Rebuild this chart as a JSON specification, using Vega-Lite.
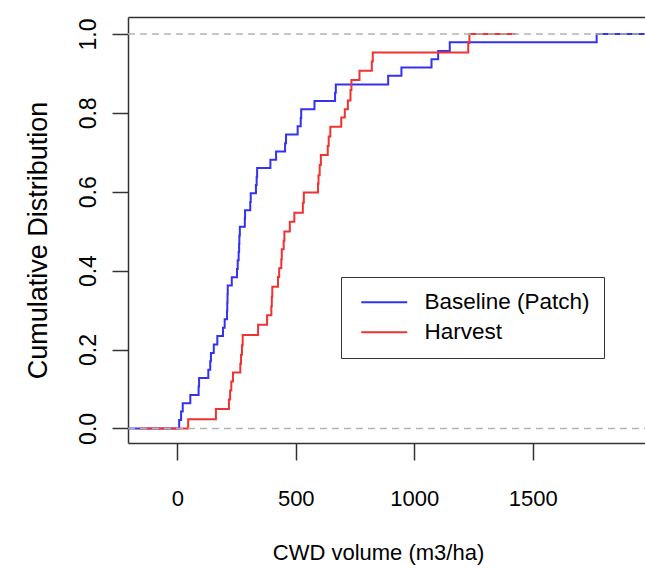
{
  "$schema": "https://vega.github.io/schema/vega-lite/v6.json",
  "width": 517,
  "height": 426,
  "autosize": {"type": "none"},
  "padding": {"left": 128, "top": 17, "right": 0, "bottom": 126},
  "background": "white",
  "config": {
    "view": {"stroke": null},
    "font": "Liberation Sans",
    "axis": {
      "domainColor": "#333333", "tickColor": "#333333", "domainWidth": 1.5, "tickWidth": 1.5,
      "labelFont": "Liberation Sans", "labelFontSize": 22, "labelColor": "black",
      "titleFont": "Liberation Sans", "titleFontSize": 22, "titleFontWeight": "normal", "titleColor": "black",
      "grid": false, "labelFlush": false, "labelOverlap": false
    },
    "legend": {
      "strokeColor": "#333333", "fillColor": "white", "padding": 14, "rowPadding": 7,
      "labelFont": "Liberation Sans", "labelFontSize": 22.5, "labelColor": "black", "labelLimit": 400,
      "labelOffset": 29, "symbolOffset": 18, "symbolType": "M-3,0H3", "symbolSize": 235, "symbolStrokeWidth": 2
    }
  },
  "datasets": {
    "ecdf": [
      {"group": "Baseline (Patch)", "x": -208, "p": 0},
      {"group": "Baseline (Patch)", "x": 8, "p": 0.021},
      {"group": "Baseline (Patch)", "x": 16, "p": 0.043},
      {"group": "Baseline (Patch)", "x": 23, "p": 0.064},
      {"group": "Baseline (Patch)", "x": 55, "p": 0.085},
      {"group": "Baseline (Patch)", "x": 90, "p": 0.106},
      {"group": "Baseline (Patch)", "x": 92, "p": 0.128},
      {"group": "Baseline (Patch)", "x": 131, "p": 0.149},
      {"group": "Baseline (Patch)", "x": 139, "p": 0.170},
      {"group": "Baseline (Patch)", "x": 142, "p": 0.191},
      {"group": "Baseline (Patch)", "x": 154, "p": 0.213},
      {"group": "Baseline (Patch)", "x": 169, "p": 0.234},
      {"group": "Baseline (Patch)", "x": 193, "p": 0.255},
      {"group": "Baseline (Patch)", "x": 200, "p": 0.277},
      {"group": "Baseline (Patch)", "x": 210, "p": 0.298},
      {"group": "Baseline (Patch)", "x": 211, "p": 0.319},
      {"group": "Baseline (Patch)", "x": 212, "p": 0.340},
      {"group": "Baseline (Patch)", "x": 213, "p": 0.362},
      {"group": "Baseline (Patch)", "x": 230, "p": 0.383},
      {"group": "Baseline (Patch)", "x": 252, "p": 0.404},
      {"group": "Baseline (Patch)", "x": 255, "p": 0.426},
      {"group": "Baseline (Patch)", "x": 259, "p": 0.447},
      {"group": "Baseline (Patch)", "x": 261, "p": 0.468},
      {"group": "Baseline (Patch)", "x": 262, "p": 0.489},
      {"group": "Baseline (Patch)", "x": 264, "p": 0.511},
      {"group": "Baseline (Patch)", "x": 285, "p": 0.532},
      {"group": "Baseline (Patch)", "x": 286, "p": 0.553},
      {"group": "Baseline (Patch)", "x": 308, "p": 0.574},
      {"group": "Baseline (Patch)", "x": 310, "p": 0.596},
      {"group": "Baseline (Patch)", "x": 332, "p": 0.617},
      {"group": "Baseline (Patch)", "x": 335, "p": 0.638},
      {"group": "Baseline (Patch)", "x": 337, "p": 0.660},
      {"group": "Baseline (Patch)", "x": 393, "p": 0.681},
      {"group": "Baseline (Patch)", "x": 417, "p": 0.702},
      {"group": "Baseline (Patch)", "x": 455, "p": 0.723},
      {"group": "Baseline (Patch)", "x": 459, "p": 0.745},
      {"group": "Baseline (Patch)", "x": 508, "p": 0.766},
      {"group": "Baseline (Patch)", "x": 521, "p": 0.787},
      {"group": "Baseline (Patch)", "x": 523, "p": 0.809},
      {"group": "Baseline (Patch)", "x": 579, "p": 0.830},
      {"group": "Baseline (Patch)", "x": 666, "p": 0.851},
      {"group": "Baseline (Patch)", "x": 669, "p": 0.872},
      {"group": "Baseline (Patch)", "x": 890, "p": 0.894},
      {"group": "Baseline (Patch)", "x": 946, "p": 0.915},
      {"group": "Baseline (Patch)", "x": 1073, "p": 0.936},
      {"group": "Baseline (Patch)", "x": 1101, "p": 0.957},
      {"group": "Baseline (Patch)", "x": 1150, "p": 0.979},
      {"group": "Baseline (Patch)", "x": 1770, "p": 1.0},
      {"group": "Baseline (Patch)", "x": 2000, "p": 1.0},
      {"group": "Harvest", "x": -160, "p": 0},
      {"group": "Harvest", "x": 46, "p": 0.023},
      {"group": "Harvest", "x": 163, "p": 0.049},
      {"group": "Harvest", "x": 218, "p": 0.073},
      {"group": "Harvest", "x": 223, "p": 0.096},
      {"group": "Harvest", "x": 228, "p": 0.119},
      {"group": "Harvest", "x": 235, "p": 0.142},
      {"group": "Harvest", "x": 266, "p": 0.164},
      {"group": "Harvest", "x": 269, "p": 0.187},
      {"group": "Harvest", "x": 273, "p": 0.211},
      {"group": "Harvest", "x": 276, "p": 0.237},
      {"group": "Harvest", "x": 341, "p": 0.263},
      {"group": "Harvest", "x": 379, "p": 0.287},
      {"group": "Harvest", "x": 397, "p": 0.310},
      {"group": "Harvest", "x": 399, "p": 0.334},
      {"group": "Harvest", "x": 401, "p": 0.359},
      {"group": "Harvest", "x": 425, "p": 0.384},
      {"group": "Harvest", "x": 430, "p": 0.406},
      {"group": "Harvest", "x": 439, "p": 0.429},
      {"group": "Harvest", "x": 441, "p": 0.454},
      {"group": "Harvest", "x": 449, "p": 0.476},
      {"group": "Harvest", "x": 452, "p": 0.499},
      {"group": "Harvest", "x": 475, "p": 0.524},
      {"group": "Harvest", "x": 494, "p": 0.547},
      {"group": "Harvest", "x": 530, "p": 0.572},
      {"group": "Harvest", "x": 534, "p": 0.598},
      {"group": "Harvest", "x": 594, "p": 0.620},
      {"group": "Harvest", "x": 596, "p": 0.642},
      {"group": "Harvest", "x": 601, "p": 0.668},
      {"group": "Harvest", "x": 606, "p": 0.693},
      {"group": "Harvest", "x": 635, "p": 0.716},
      {"group": "Harvest", "x": 639, "p": 0.740},
      {"group": "Harvest", "x": 646, "p": 0.765},
      {"group": "Harvest", "x": 692, "p": 0.788},
      {"group": "Harvest", "x": 707, "p": 0.809},
      {"group": "Harvest", "x": 720, "p": 0.831},
      {"group": "Harvest", "x": 731, "p": 0.858},
      {"group": "Harvest", "x": 735, "p": 0.883},
      {"group": "Harvest", "x": 769, "p": 0.907},
      {"group": "Harvest", "x": 821, "p": 0.930},
      {"group": "Harvest", "x": 825, "p": 0.953},
      {"group": "Harvest", "x": 1228, "p": 0.977},
      {"group": "Harvest", "x": 1233, "p": 1.0},
      {"group": "Harvest", "x": 1430, "p": 1.0}
    ],
    "ref": [{"p": 0}, {"p": 1}]
  },
  "layer": [
    {
      "data": {"name": "ecdf"},
      "mark": {"type": "line", "interpolate": "step-after", "strokeWidth": 2, "clip": true},
      "encoding": {
        "x": {
          "field": "x", "type": "quantitative",
          "scale": {"domain": [-208, 1974], "nice": false, "zero": false},
          "axis": {
            "orient": "bottom", "values": [0, 500, 1000, 1500], "format": "d", "tickSize": 17,
            "labelPadding": 45, "labelBaseline": "alphabetic", "labelAngle": 0, "labelAlign": "center",
            "title": "CWD volume (m3/ha)", "titleX": 250, "titleY": 116,
            "titleBaseline": "alphabetic", "titleAlign": "center"
          }
        },
        "y": {
          "field": "p", "type": "quantitative",
          "scale": {"domain": [-0.037, 1.043], "nice": false, "zero": false},
          "axis": {
            "values": [0, 0.2, 0.4, 0.6, 0.8, 1], "format": ".1f", "tickSize": 16,
            "labelAngle": -90, "labelAlign": "center", "labelBaseline": "alphabetic", "labelPadding": 17,
            "labelFontSize": 23,
            "title": "Cumulative Distribution", "titleFontSize": 27, "titleX": -82, "titleY": 223, "titleAngle": -90,
            "titleAlign": "center", "titleBaseline": "alphabetic"
          }
        },
        "color": {
          "field": "group", "type": "nominal",
          "scale": {"domain": ["Baseline (Patch)", "Harvest"], "range": ["#3232f0", "#f03232"]},
          "legend": {"title": null, "orient": "none", "legendX": 213, "legendY": 260}
        }
      }
    },
    {
      "data": {"name": "ref"},
      "mark": {"type": "rule", "strokeDash": [7, 5], "color": "#b3b3b3", "strokeWidth": 1.5},
      "encoding": {
        "x": {"datum": -208, "type": "quantitative", "axis": {"orient": "top", "labels": false, "ticks": false, "domain": true, "title": null}},
        "x2": {"datum": 1974},
        "y": {"field": "p", "type": "quantitative"}
      }
    }
  ],
  "resolve": {"axis": {"x": "independent"}}
}
